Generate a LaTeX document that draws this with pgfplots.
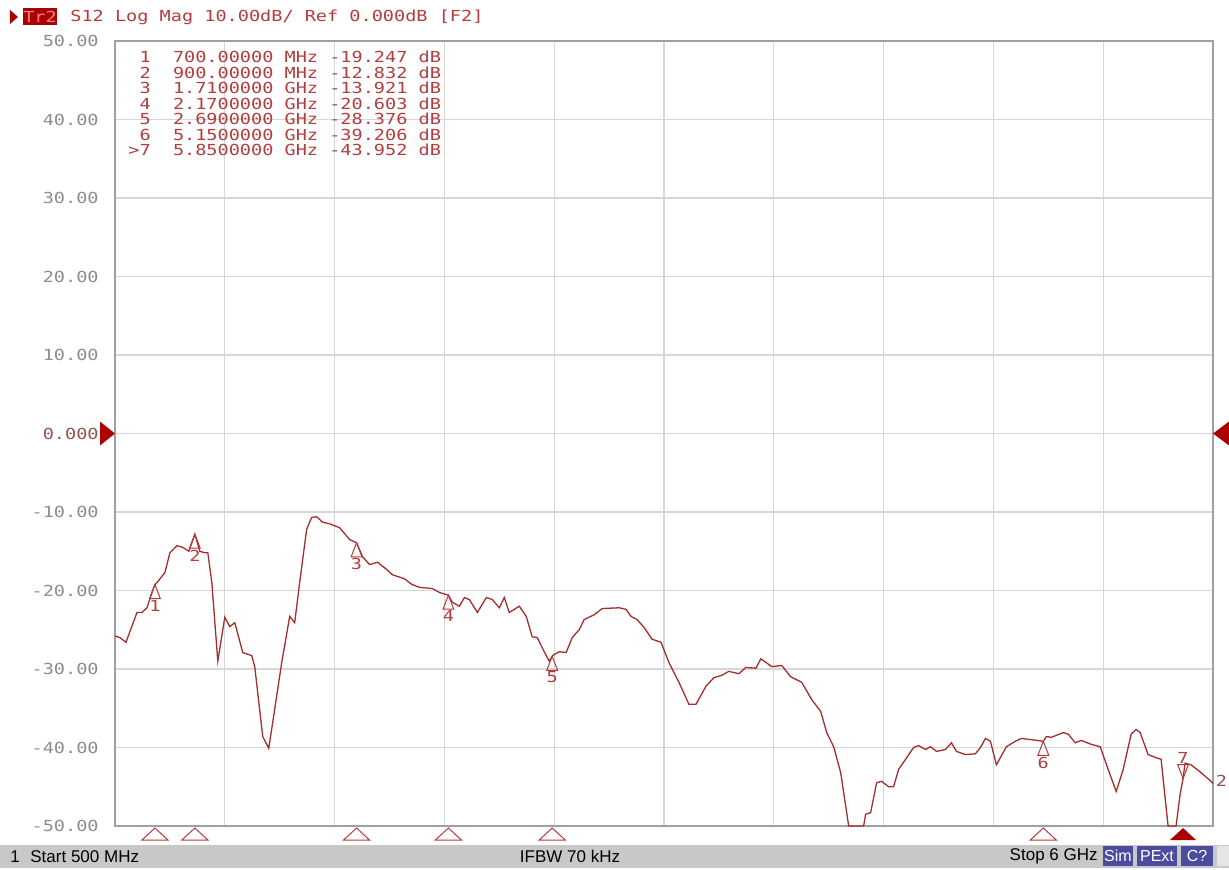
\documentclass[border=0pt]{standalone}
\usepackage{pgfplots}
\pgfplotsset{compat=1.18}
\usepackage{fontspec}
\setmainfont{Liberation Sans}
\newfontfamily\vnamono[FakeStretch=1.22]{DejaVu Sans Mono}

\definecolor{trace}{RGB}{165,45,45}
\definecolor{mkred}{RGB}{180,60,60}
\definecolor{refred}{RGB}{170,0,0}
\definecolor{zerored}{RGB}{150,80,80}
\definecolor{gridgray}{RGB}{215,215,215}
\definecolor{framegray}{RGB}{160,160,160}
\definecolor{labgray}{RGB}{140,140,140}
\definecolor{barblue}{RGB}{75,75,160}
\definecolor{bargray}{RGB}{200,200,200}

% marker shapes, sizes in pt (0.5pt per screen pixel)
\pgfdeclareplotmark{refR}{\pgfpathmoveto{\pgfpoint{0pt}{0pt}}\pgfpathlineto{\pgfpoint{-7.5pt}{6pt}}\pgfpathlineto{\pgfpoint{-7.5pt}{-6pt}}\pgfpathclose\pgfusepathqfill}
\pgfdeclareplotmark{refL}{\pgfpathmoveto{\pgfpoint{0pt}{0pt}}\pgfpathlineto{\pgfpoint{8pt}{6pt}}\pgfpathlineto{\pgfpoint{8pt}{-6pt}}\pgfpathclose\pgfusepathqfill}
\pgfdeclareplotmark{mkup}{\pgfpathmoveto{\pgfpoint{0pt}{0pt}}\pgfpathlineto{\pgfpoint{-2.7pt}{-7pt}}\pgfpathlineto{\pgfpoint{2.7pt}{-7pt}}\pgfpathclose\pgfusepathqstroke}
\pgfdeclareplotmark{mkdown}{\pgfpathmoveto{\pgfpoint{0pt}{0pt}}\pgfpathlineto{\pgfpoint{-2.7pt}{7pt}}\pgfpathlineto{\pgfpoint{2.7pt}{7pt}}\pgfpathclose\pgfusepathqstroke}
\pgfdeclareplotmark{btri}{\pgfpathmoveto{\pgfpoint{0pt}{-1pt}}\pgfpathlineto{\pgfpoint{-6.5pt}{-7pt}}\pgfpathlineto{\pgfpoint{6.5pt}{-7pt}}\pgfpathclose\pgfusepathqstroke}
\pgfdeclareplotmark{btrif}{\pgfpathmoveto{\pgfpoint{0pt}{-1pt}}\pgfpathlineto{\pgfpoint{-6.5pt}{-7pt}}\pgfpathlineto{\pgfpoint{6.5pt}{-7pt}}\pgfpathclose\pgfusepathqfill}

\newcommand{\mono}{\vnamono\fontsize{7.6}{8}\selectfont}

\begin{document}
\begin{tikzpicture}
\path (-57.5pt,-21.5pt) rectangle (557pt,413pt);

% status bar
\fill[bargray] (-57.5pt,-21pt) rectangle (557pt,-9.5pt);
\fill[barblue] (494pt,-10pt) rectangle (509pt,-20pt);
\fill[barblue] (511pt,-10pt) rectangle (531pt,-20pt);
\fill[barblue] (533pt,-10pt) rectangle (549pt,-20pt);
\fill[gray!20] (551pt,-10pt) rectangle (557pt,-20pt);
\begin{scope}[font=\fontsize{8.5}{10}\selectfont, inner sep=0pt]
\node[anchor=west] at (-52.5pt,-15.3pt) {1};
\node[anchor=west] at (-42.5pt,-15.3pt) {Start 500 MHz};
\node at (227.5pt,-15.3pt) {IFBW 70 kHz};
\node[anchor=east] at (491.5pt,-15.3pt) {Stop 6 GHz};
\node[text=white, font=\fontsize{8}{9}\selectfont] at (501.5pt,-15pt) {Sim};
\node[text=white, font=\fontsize{8}{9}\selectfont] at (521pt,-15pt) {PExt};
\node[text=white, font=\fontsize{8}{9}\selectfont] at (541pt,-15pt) {C?};
\end{scope}

% title line
\fill[refred] (-52.5pt,401pt) -- (-48.5pt,404.5pt) -- (-52.5pt,408pt) -- cycle;
\fill[refred] (-46pt,400.5pt) rectangle (-29pt,409pt);
\node[inner sep=0pt, text={rgb,255:red,255;green,130;blue,130}, font=\mono] at (-37.5pt,404.5pt) {Tr2};
\node[anchor=west, inner sep=0pt, text=mkred, font=\mono] at (-22.5pt,404.5pt) {S12 Log Mag 10.00dB/ Ref 0.000dB [F2]};

\begin{axis}[
  at={(0,0)}, anchor=south west,
  scale only axis, width=549pt, height=392.5pt,
  xmin=0.5, xmax=6, ymin=-50, ymax=50,
  xtick={0.5,1.05,1.6,2.15,2.7,3.25,3.8,4.35,4.9,5.45,6},
  xticklabels={},
  ytick={-50,-40,-30,-20,-10,0,10,20,30,40,50},
  yticklabels={-50.00,-40.00,-30.00,-20.00,-10.00,{\textcolor{zerored}{0.000}},10.00,20.00,30.00,40.00,50.00},
  yticklabel style={font=\mono, text=labgray, anchor=east, inner sep=0pt, xshift=-8pt},
  major tick length=0pt,
  grid=major,
  major grid style={gridgray, line width=0.6pt},
  axis line style={framegray, line width=0.7pt},
  clip=false,
]
\addplot[trace, line width=0.65pt, no marks] coordinates {
(0.500,-25.8) (0.525,-26.0) (0.555,-26.6) (0.610,-22.8) (0.635,-22.8) (0.660,-22.2)
(0.690,-19.9) (0.700,-19.247) (0.715,-18.85) (0.750,-17.7) (0.775,-15.2) (0.810,-14.3)
(0.840,-14.5) (0.870,-15.0) (0.900,-12.832) (0.925,-15.0) (0.950,-15.2) (0.965,-15.2)
(0.985,-19.0) (1.015,-29.0) (1.050,-23.4) (1.075,-24.6) (1.100,-24.1) (1.140,-27.9)
(1.185,-28.3) (1.200,-29.7) (1.240,-38.6) (1.270,-40.1) (1.290,-36.8) (1.335,-29.2)
(1.375,-23.3) (1.400,-24.1) (1.425,-19.0) (1.460,-12.2) (1.485,-10.7) (1.510,-10.6)
(1.540,-11.3) (1.575,-11.5) (1.625,-12.0) (1.675,-13.5) (1.710,-13.921) (1.740,-15.7)
(1.775,-16.7) (1.815,-16.4) (1.860,-17.3) (1.890,-18.0) (1.950,-18.5) (1.985,-19.2)
(2.025,-19.6) (2.090,-19.75) (2.125,-20.25) (2.170,-20.603) (2.190,-21.5) (2.225,-22.0)
(2.250,-20.9) (2.275,-21.15) (2.315,-22.8) (2.360,-20.9) (2.390,-21.15) (2.425,-22.2)
(2.450,-20.9) (2.475,-22.8) (2.525,-22.0) (2.560,-23.3) (2.590,-25.9) (2.615,-26.0)
(2.650,-27.8) (2.675,-29.0) (2.690,-28.376) (2.700,-28.15) (2.725,-27.8) (2.760,-27.9)
(2.790,-26.0) (2.825,-25.0) (2.850,-23.7) (2.900,-23.1) (2.940,-22.3) (3.025,-22.2)
(3.060,-22.4) (3.085,-23.3) (3.115,-23.7) (3.150,-24.7) (3.190,-26.2) (3.235,-26.6)
(3.275,-29.2) (3.325,-31.7) (3.375,-34.5) (3.410,-34.5) (3.460,-32.2) (3.500,-31.1)
(3.540,-30.8) (3.575,-30.3) (3.625,-30.6) (3.660,-29.8) (3.710,-29.9) (3.735,-28.7)
(3.790,-29.7) (3.840,-29.55) (3.885,-31.0) (3.940,-31.7) (3.990,-33.9) (4.035,-35.4)
(4.065,-38.1) (4.100,-39.9) (4.135,-43.2) (4.175,-50) (4.250,-50) (4.260,-48.5)
(4.285,-48.3) (4.315,-44.5) (4.340,-44.3) (4.375,-45.0) (4.400,-45.0) (4.425,-42.8)
(4.460,-41.5) (4.500,-40.0) (4.525,-39.75) (4.560,-40.25) (4.585,-39.9) (4.615,-40.5)
(4.660,-40.25) (4.690,-39.4) (4.715,-40.5) (4.760,-40.9) (4.810,-40.8) (4.835,-40.0)
(4.860,-38.85) (4.885,-39.2) (4.915,-42.2) (4.965,-39.9) (5.010,-39.2) (5.040,-38.85)
(5.090,-39.0) (5.150,-39.206) (5.165,-38.6) (5.190,-38.7) (5.250,-38.1) (5.275,-38.3)
(5.310,-39.4) (5.340,-39.1) (5.390,-39.6) (5.435,-39.9) (5.475,-42.8) (5.515,-45.6)
(5.550,-42.8) (5.590,-38.3) (5.615,-37.7) (5.635,-38.1) (5.675,-40.9) (5.715,-41.3)
(5.740,-41.5) (5.775,-50) (5.815,-50) (5.835,-46.0) (5.850,-43.952) (5.860,-42.0)
(5.890,-42.2) (5.935,-43.1) (5.990,-44.3) (6.000,-44.6)
};

% markers on the trace
\addplot[only marks, mark=mkup, mkred, mark options={line width=0.5pt},
  nodes near coords, point meta=explicit symbolic,
  every node near coord/.append style={anchor=north, inner sep=0pt, yshift=-7.5pt, font=\mono, text=mkred}]
  coordinates {(0.70,-19.247)[1] (0.90,-12.832)[2] (1.71,-13.921)[3] (2.17,-20.603)[4] (2.69,-28.376)[5] (5.15,-39.206)[6]};
\addplot[only marks, mark=mkdown, mkred, mark options={line width=0.5pt},
  nodes near coords, point meta=explicit symbolic,
  every node near coord/.append style={anchor=south, inner sep=0pt, yshift=7.5pt, font=\mono, text=mkred}]
  coordinates {(5.85,-43.952)[7]};

% marker positions along the bottom edge
\addplot[only marks, mark=btri, mkred, mark options={line width=0.5pt}]
  coordinates {(0.70,-50) (0.90,-50) (1.71,-50) (2.17,-50) (2.69,-50) (5.15,-50)};
\addplot[only marks, mark=btrif, refred] coordinates {(5.85,-50)};

% reference level arrows
\addplot[only marks, mark=refR, refred] coordinates {(0.5,0)};
\addplot[only marks, mark=refL, refred] coordinates {(6,0)};

% marker table
\begin{scope}[every node/.style={anchor=west, inner sep=0pt, font=\mono, text=mkred}]
\node at (rel axis cs:0.0118,0.9796) {~1~~700.00000 MHz -19.247 dB};
\node at (rel axis cs:0.0118,0.9599) {~2~~900.00000 MHz -12.832 dB};
\node at (rel axis cs:0.0118,0.9401) {~3~~1.7100000 GHz -13.921 dB};
\node at (rel axis cs:0.0118,0.9204) {~4~~2.1700000 GHz -20.603 dB};
\node at (rel axis cs:0.0118,0.9006) {~5~~2.6900000 GHz -28.376 dB};
\node at (rel axis cs:0.0118,0.8809) {~6~~5.1500000 GHz -39.206 dB};
\node at (rel axis cs:0.0118,0.8611) {>7~~5.8500000 GHz -43.952 dB};
\end{scope}
\node[anchor=west, inner sep=0pt, font=\mono, text=zerored] at (axis cs:6,-44.3) {\,2};
\end{axis}
\end{tikzpicture}
\end{document}
